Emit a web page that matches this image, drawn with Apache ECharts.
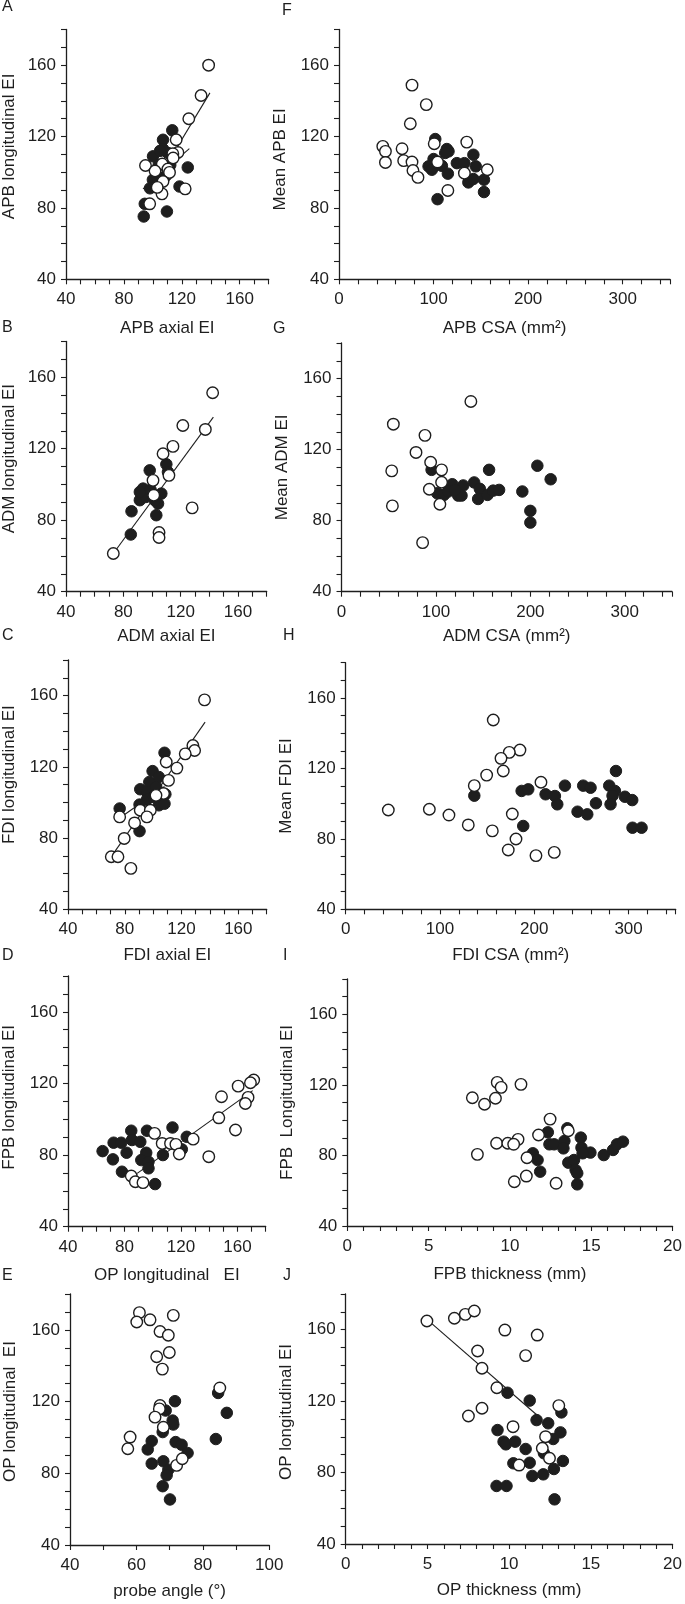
<!DOCTYPE html>
<html><head><meta charset="utf-8">
<script src="https://cdn.jsdelivr.net/npm/echarts@6/dist/echarts.min.js"></script>
<style>html,body{margin:0;padding:0;background:#fff}#c{width:685px;height:1604px}</style>
</head><body><div id="c"></div>
<script>
// ---------- tick labels ----------
const EI_LABELS = [40, 80, 120, 160];
const CSA_LABELS = [0, 100, 200, 300];
const MM_LABELS = [0, 5, 10, 15, 20];
const ANGLE_LABELS = [40, 60, 80, 100];

// ---------- data (open = white circles, filled = black circles) ----------
const A_open = [[138.5,160],[133.3,143],[124.8,130],[116.1,118.2],[117.3,111.1],[113.8,110.4],[94.9,103.8],[106.5,104.6],[101.5,100.7],[110.4,101.8],[111.5,99.9],[107,94.8],[106.3,87.9],[97.8,82.3],[122.3,90.7],[103,91.5],[114,108]];
const A_filled = [[113.4,123.5],[107,118.2],[107,113],[110.4,110.8],[100.1,108.9],[100,95.8],[124.1,102.7],[118.4,92],[94.4,82.3],[93.7,75.2],[109.7,78],[104,104],[98,91],[109,98],[112,104],[103,97],[105,112]];
const A_fitOpen = [[100,91.4],[139.4,144.5]];
const A_fitFilled = [[93.2,90.7],[125.2,113.2]];

const B_open = [[142.3,151.3],[121.5,133],[137.2,130.8],[114.6,121.3],[107.7,117.2],[111.8,105.1],[100.7,102.3],[128,86.9],[104.9,73.1],[104.9,70.3],[73,61.4],[101.2,94]];
const B_filled = [[98.4,107.9],[110,111.3],[111.1,107],[85.7,85],[85.2,72],[103,82.8],[91.5,91.2],[93.8,97.7],[97.3,95.8],[95.7,93],[106.5,94.9],[104.2,89.3],[101.9,91.2],[91.5,95.8],[99,97]];
const B_fit = [[73,61.4],[142.8,137.7]];

const C_open = [[136.2,157.6],[128,132],[129.2,129.2],[122.6,127.3],[116.7,119.3],[109.2,122.7],[110.8,112.4],[107.3,105],[90.9,95.6],[98,95.6],[95.6,91.9],[76.4,91.9],[86.9,88.5],[79.6,79.8],[70.5,69.5],[75.2,69.5],[84.3,63],[102,104]];
const C_filled = [[108,127.9],[99.6,117.6],[97.3,111.5],[104,114.3],[90.9,107.4],[95.6,105.9],[102.2,108.7],[108.6,104.6],[95.6,101.6],[104,98.4],[108,99.3],[90.4,98.8],[76.4,96.6],[90.4,83.9],[100.3,103.1]];
const C_fitOpen = [[72.1,71.4],[136.6,145.1]];
const C_fitFilled = [[76.4,91.3],[108,109]];

const D_open = [[171.5,121.9],[169.2,120.4],[160.5,118.5],[148.7,112.6],[167.5,112.2],[165.6,108.8],[146.8,100.8],[158.6,94],[139.7,79.1],[128.6,88.9],[101.3,92.1],[106.7,86.5],[112.6,86.5],[116.4,86],[118.8,80.6],[84.8,68.3],[87.7,65.1],[93.1,64.6]];
const D_filled = [[64.5,82.2],[72.3,86.9],[77.7,86.9],[71.8,77.6],[81.5,81.3],[84.8,93.6],[85.3,88.4],[91.2,87.4],[95.9,93.6],[95.4,81.3],[91.9,77.2],[97,76.3],[97,72.6],[78.2,70.7],[101.7,63.8],[107.2,80],[114,95.4],[120.6,83.2],[124.1,90.2]];
const D_fit = [[89,69.8],[170.8,116]];

const E_open = [[60.9,169.6],[60.1,164.4],[64.1,165.6],[71.1,168.1],[67.1,159.1],[69.6,157],[69.9,147.4],[66.1,145],[67.8,138.1],[85.1,127.6],[67.1,117.8],[66.9,115.9],[65.6,111.3],[68.1,105.7],[58.1,100.2],[57.4,93.7],[72.1,84.4],[73.8,88.1]];
const E_filled = [[71.6,120.2],[68.8,115],[70.9,109.4],[71.1,107.2],[67.9,103],[64.6,98],[63.4,93.3],[64.6,85.4],[71.8,97.4],[73.6,95.9],[75.4,91.3],[68.1,86.7],[69.6,82],[69.1,78.9],[67.9,72.8],[70.1,65.4],[84.6,124.8],[83.9,99.1],[87.2,113.7]];

const F_open = [[77.2,148.8],[92.3,137.9],[75.4,127.2],[46.3,114.5],[49.1,111.7],[49.1,105.5],[66.7,113.2],[68.4,106.5],[77.2,105.7],[78.2,101],[83.5,97.1],[100.7,116],[104.2,105.7],[135.1,116.9],[132.6,99.5],[115.1,89.8],[156.8,101.4]];
const F_filled = [[101.8,118.6],[114,113],[115.8,111.7],[112.3,110.8],[142.1,109.8],[100,107.4],[94.7,103.3],[98.2,101.4],[108.8,103.6],[115.1,99.2],[124.6,105.1],[132.6,105.1],[144.6,103.3],[136.8,94.3],[142.1,96.2],[153.3,95.8],[153.3,88.9],[104.2,84.9]];

const G_open = [[137,147.1],[54.9,134.3],[88.4,128],[78.9,118.4],[94.4,112.9],[106,108.6],[106,101.6],[53.2,108],[93,97.7],[104.2,89.2],[53.9,88.3],[85.9,67.6]];
const G_filled = [[95.4,108.6],[156.3,108.6],[207.4,110.9],[221.5,103.3],[191.5,96.4],[200,85.5],[200,78.9],[101.4,95.4],[108.5,94.5],[117.3,100.5],[113,96.4],[123.6,94.1],[128.9,99.8],[127.1,94.1],[140.5,101.5],[146.5,97.9],[144.7,92.2],[154.6,94.5],[160.6,96.9],[166.9,97.3],[120.1,97.3]];

const H_open = [[156.5,147.5],[184.8,130.4],[173.5,129.1],[164.7,125.7],[167.1,118.5],[149.5,116.2],[136.4,110.2],[207.1,112.1],[45.2,96.4],[88.7,96.8],[109.5,93.5],[130,87.9],[176.7,94.1],[155.5,84.5],[180.6,79.9],[172.4,73.7],[201.8,70.5],[221.2,72.3]];
const H_filled = [[136.4,104.5],[186.6,107.2],[193.6,108.1],[212,105.3],[221.9,104.3],[224.4,99.6],[232.5,110.2],[251.9,110.2],[259.7,109],[265.4,100.2],[245.9,95.4],[256.2,93.9],[286.6,118.5],[279.5,110.2],[285.5,107.2],[283,104.5],[280.9,99.6],[296.1,103.9],[303.9,102],[304.2,86.3],[313.8,86.3],[188.3,87.3]];

const I_open = [[9.22,121.4],[9.46,118.6],[10.68,120.3],[7.69,112.7],[9.11,112.4],[8.44,109],[12.47,100.6],[11.76,91.6],[13.59,94],[10.5,89.1],[9.18,86.9],[9.87,86.9],[10.23,86.3],[8,80.6],[11.05,78.7],[11.01,68.3],[10.27,65.1],[12.84,64.2]];
const I_filled = [[12.33,93.1],[13.53,95.4],[12.43,86.3],[12.72,86.3],[13.35,88.2],[13.29,84],[14.36,90.1],[14.4,84.4],[14.95,81.6],[14.47,81.2],[11.41,81.2],[11.7,77.4],[11.86,70.8],[13.59,75.9],[13.94,77.4],[14.04,71.7],[14.14,69.9],[14.14,63.6],[15.77,80.2],[16.34,83.1],[16.58,86.3],[16.95,87.8]];

const J_open = [[4.97,164.9],[6.65,166.4],[7.32,168.6],[7.87,170.5],[9.74,159.8],[11.72,157],[8.07,148.1],[11.01,145.5],[8.34,138.4],[9.25,127.5],[8.34,116],[7.51,111.7],[13.04,117.5],[10.24,105.7],[12.23,100.1],[12.03,93.6],[12.47,88],[10.61,84.2]];
const J_filled = [[9.9,124.7],[11.26,120.3],[13.2,113.7],[11.68,109.4],[12.39,107.6],[13.14,102.5],[12.7,98.8],[9.29,103.8],[9.66,97.3],[9.8,95.8],[10.37,97.3],[11.01,93.2],[12.13,90.8],[10.26,85.2],[11.26,85.5],[11.42,78.1],[12.09,79],[12.74,82],[13.29,86.5],[9.23,72.5],[9.84,72.5],[12.78,65]];
const J_fit = [[4.97,165.8],[11.93,110.4]];

// ---------- panel definitions ----------
const panels = [
  {letter:'A', xName:'APB axial EI', yName:'APB longitudinal EI', x:[40,180,10,EI_LABELS], open:A_open, filled:A_filled, fits:[A_fitOpen, A_fitFilled]},
  {letter:'B', xName:'ADM axial EI', yName:'ADM longitudinal EI', x:[40,180,10,EI_LABELS], open:B_open, filled:B_filled, fits:[B_fit]},
  {letter:'C', xName:'FDI axial EI', yName:'FDI longitudinal EI', x:[40,180,10,EI_LABELS], open:C_open, filled:C_filled, fits:[C_fitOpen, C_fitFilled]},
  {letter:'D', xName:'OP longitudinal   EI', yName:'FPB longitudinal EI', x:[40,180,10,EI_LABELS], open:D_open, filled:D_filled, fits:[D_fit]},
  {letter:'E', xName:'probe angle (°)', yName:'OP longitudinal  EI', x:[40,100,10,ANGLE_LABELS], open:E_open, filled:E_filled, fits:[]},
  {letter:'F', xName:'APB CSA (mm²)', yName:'Mean APB EI', x:[0,350,20,CSA_LABELS], open:F_open, filled:F_filled, fits:[]},
  {letter:'G', xName:'ADM CSA (mm²)', yName:'Mean ADM EI', x:[0,350,20,CSA_LABELS], open:G_open, filled:G_filled, fits:[]},
  {letter:'H', xName:'FDI CSA (mm²)', yName:'Mean FDI EI', x:[0,350,20,CSA_LABELS], open:H_open, filled:H_filled, fits:[]},
  {letter:'I', xName:'FPB thickness (mm)', yName:'FPB  Longitudinal EI', x:[0,20,1,MM_LABELS], open:I_open, filled:I_filled, fits:[]},
  {letter:'J', xName:'OP thickness (mm)', yName:'OP longitudinal EI', x:[0,20,1,MM_LABELS], open:J_open, filled:J_filled, fits:[J_fit]}
];
const Y_RANGE = [40, 180, 10, EI_LABELS];

// ---------- layout (pixels) ----------
const layout = {
  A:{grid:[65.7,29.5,203,249.8], letter:[2,8],    xGap:41, yGap:48, yShift:-8},
  B:{grid:[65.7,341.5,201,250.2], letter:[2,329], xGap:36, yGap:48, yShift:-8},
  C:{grid:[67.7,660,199,249.3],  letter:[2,637],  xGap:38, yGap:50, yShift:-10},
  D:{grid:[67.7,976,198,250.7],  letter:[2,957],  xGap:40, yGap:50, yShift:-4},
  E:{grid:[70,1294,199.3,251],   letter:[2,1277], xGap:38, yGap:51, yShift:-8},
  F:{grid:[339,29.5,331,249.8],  letter:[282,12], xGap:41, yGap:50, yShift:5},
  G:{grid:[341.5,343,330.5,248.7], letter:[273,330], xGap:36, yGap:51, yShift:0},
  H:{grid:[345.7,662.7,330,246.6], letter:[283,637], xGap:38, yGap:51, yShift:0},
  I:{grid:[347.3,979,327.7,247],   letter:[283,957], xGap:40, yGap:51, yShift:0},
  J:{grid:[345.7,1294,328.6,250],  letter:[283,1277], xGap:38, yGap:51, yShift:-7}
};

const FONT = "'Liberation Sans', Arial, sans-serif";
const INK = '#1e1e1e';
const FS = 17;

function makeAxis(gi, spec, name, gap, isY, shift) {
  const [min, max, interval, labels] = spec;
  let pad = [0,0,0,0];
  if (isY && shift < 0) pad = [0,0,0,-2*shift];
  if (isY && shift > 0) pad = [0,2*shift,0,0];
  return {
    type:'value', gridIndex:gi, min, max, interval,
    name, nameLocation:'middle', nameGap:gap,
    nameTextStyle:{fontFamily:FONT, fontSize:FS, color:INK, padding:pad},
    axisLine:{show:true, onZero:false, lineStyle:{color:INK, width:1.3}},
    axisTick:{show:true, inside:false, length:5, lineStyle:{color:INK, width:1.1}},
    axisLabel:{fontFamily:FONT, fontSize:FS, color:INK, margin: isY ? 10 : 12,
      formatter: v => labels.indexOf(v) >= 0 ? String(v) : ''},
    splitLine:{show:false}
  };
}

const grids = [], xAxes = [], yAxes = [], series = [], graphics = [];
panels.forEach((p, i) => {
  const L = layout[p.letter];
  grids.push({left:L.grid[0], top:L.grid[1], width:L.grid[2], height:L.grid[3], containLabel:false});
  xAxes.push(makeAxis(i, p.x, p.xName, L.xGap, false, 0));
  yAxes.push(makeAxis(i, Y_RANGE, p.yName, L.yGap, true, L.yShift));
  p.fits.forEach(f => series.push({
    type:'line', xAxisIndex:i, yAxisIndex:i, data:f, symbol:'none', z:1,
    lineStyle:{color:INK, width:1.1}, silent:true
  }));
  series.push({
    type:'scatter', xAxisIndex:i, yAxisIndex:i, data:p.filled, symbol:'circle', symbolSize:11.5, z:2,
    itemStyle:{color:INK, borderColor:INK, borderWidth:1, opacity:1}
  });
  series.push({
    type:'scatter', xAxisIndex:i, yAxisIndex:i, data:p.open, symbol:'circle', symbolSize:11.5, z:3,
    itemStyle:{color:'#ffffff', borderColor:INK, borderWidth:1.4, opacity:1}
  });
  graphics.push({type:'text', left:L.letter[0], top:L.letter[1]-9,
    style:{text:p.letter, font:'16px ' + FONT, fill:INK}});
});

const chart = echarts.init(document.getElementById('c'), null, {renderer:'canvas'});
chart.setOption({
  animation:false, backgroundColor:'#ffffff',
  grid:grids, xAxis:xAxes, yAxis:yAxes, series, graphic:graphics
});
</script></body></html>
